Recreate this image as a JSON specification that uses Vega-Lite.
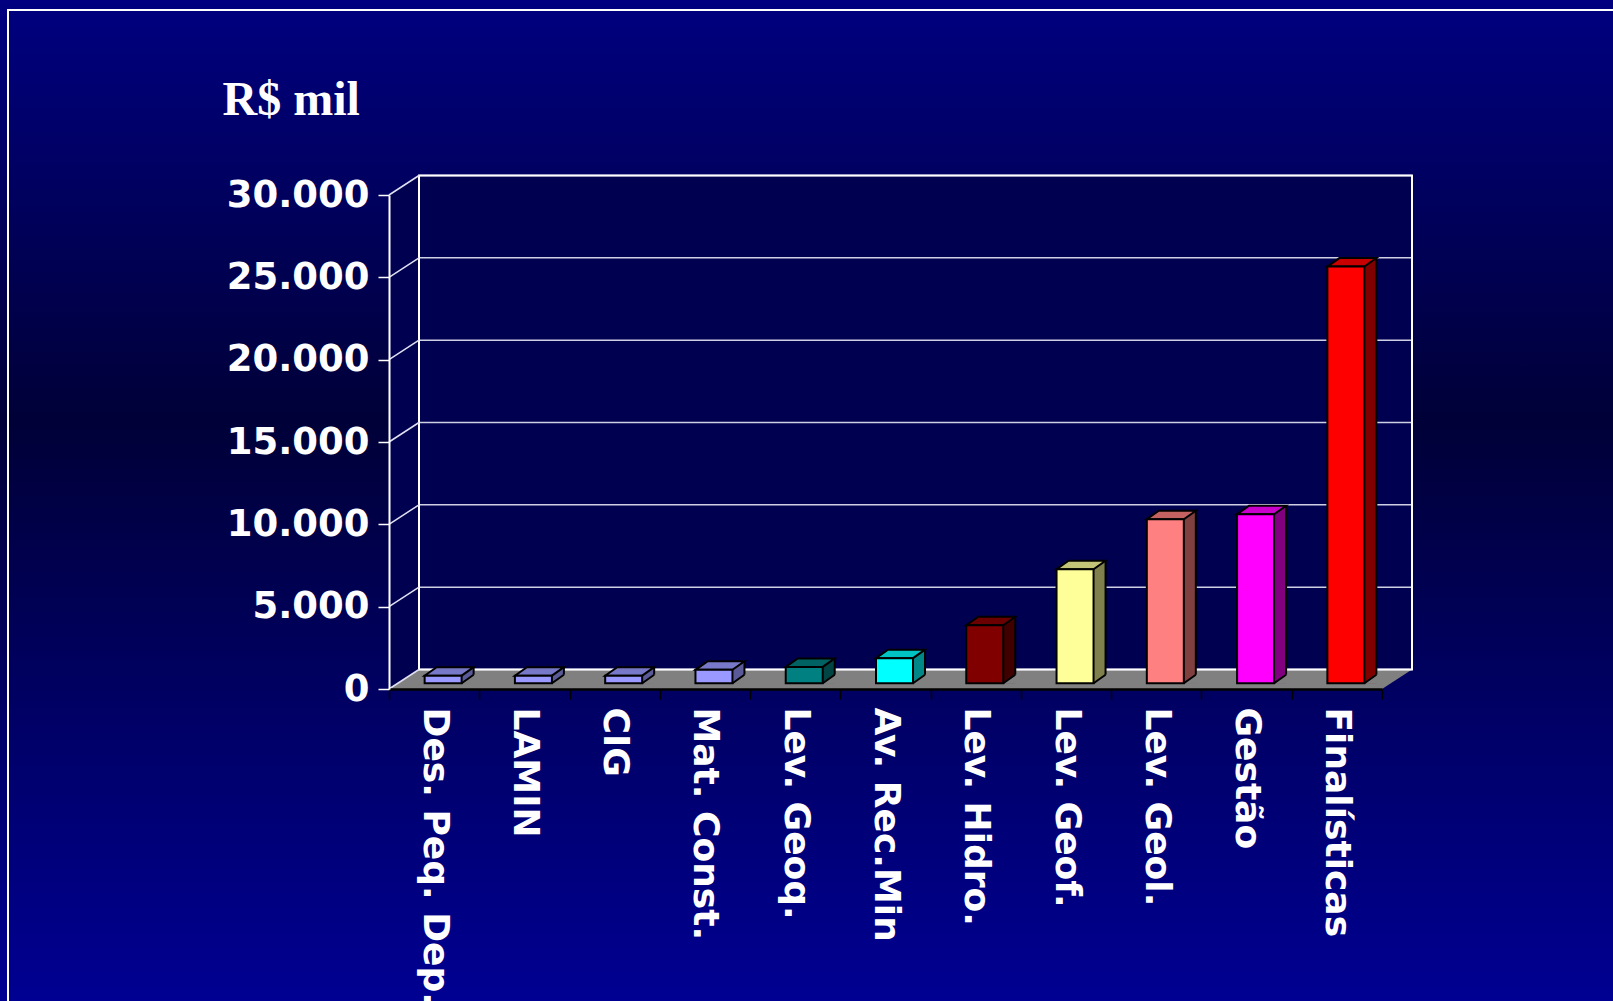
{
  "$schema": "https://vega.github.io/schema/vega-lite/v6.json",
  "width": 993,
  "height": 494,
  "autosize": {"type": "none"},
  "padding": {"left": 389, "top": 195, "right": 231, "bottom": 312},
  "background": "#000060",
  "datasets": {
    "budget": [
      {"categoria": "Des. Peq. Dep.", "valor": 460},
      {"categoria": "LAMIN", "valor": 460},
      {"categoria": "CIG", "valor": 460},
      {"categoria": "Mat. Const.", "valor": 810},
      {"categoria": "Lev. Geoq.", "valor": 990},
      {"categoria": "Av. Rec.Min", "valor": 1520},
      {"categoria": "Lev. Hidro.", "valor": 3520},
      {"categoria": "Lev. Geof.", "valor": 6920},
      {"categoria": "Lev. Geol.", "valor": 9960},
      {"categoria": "Gestão", "valor": 10260},
      {"categoria": "Finalísticas", "valor": 25300}
    ],
    "ticks": [{"v": 0}, {"v": 5000}, {"v": 10000}, {"v": 15000}, {"v": 20000}, {"v": 25000}, {"v": 30000}],
    "frame": [{"k": 1}]
  },
  "layer": [
    {
      "data": {"name": "frame"},
      "mark": {
        "type": "rect",
        "fill": {"gradient": "linear", "x1": 0, "y1": 0, "x2": 0, "y2": 1,
          "stops": [{"offset": 0, "color": "#000080"}, {"offset": 0.42, "color": "#000038"}, {"offset": 1, "color": "#000092"}]}
      },
      "encoding": {
        "x": {"value": -389}, "x2": {"value": 1224},
        "y": {"value": -195}, "y2": {"value": 806}
      }
    },
    {
      "data": {"name": "frame"},
      "mark": {"type": "rect", "fill": "transparent", "stroke": "white", "strokeWidth": 2},
      "encoding": {
        "x": {"value": -381}, "x2": {"value": 1260},
        "y": {"value": -185}, "y2": {"value": 840}
      }
    },
    {
      "data": {"name": "frame"},
      "mark": {"type": "rect", "fill": "#000050", "yOffset": -19.5, "y2Offset": -19.5},
      "encoding": {
        "x": {"value": 30}, "x2": {"value": 1023},
        "y": {"datum": 30000, "type": "quantitative", "title": "R$ mil", "scale": {"domain": [0, 30000], "nice": false}},
        "y2": {"datum": 0}
      }
    },
    {
      "data": {"name": "frame"},
      "mark": {"type": "point", "filled": true, "opacity": 1, "size": 4, "fill": "#000050", "strokeWidth": 0,
        "shape": "M -45.136 0 L -15.136 -19.5 L -15.136 -513.5 L -45.136 -494 Z"},
      "encoding": {
        "x": {"datum": "Des. Peq. Dep.", "type": "nominal", "title": null},
        "y": {"datum": 0, "type": "quantitative", "title": "R$ mil"}
      }
    },
    {
      "data": {"name": "frame"},
      "mark": {"type": "point", "filled": true, "opacity": 1, "size": 4, "fill": "#808080", "strokeWidth": 0,
        "shape": "M -45.136 0 L 947.864 0 L 977.864 -19.5 L -15.136 -19.5 Z"},
      "encoding": {
        "x": {"datum": "Des. Peq. Dep.", "type": "nominal", "title": null},
        "y": {"datum": 0, "type": "quantitative", "title": "R$ mil"}
      }
    },
    {
      "data": {"name": "ticks"},
      "mark": {"type": "rule", "color": "#d0d0e4", "strokeWidth": 1.5, "yOffset": -19.5},
      "encoding": {
        "x": {"value": 30}, "x2": {"value": 1023},
        "y": {"field": "v", "type": "quantitative", "title": "R$ mil"}
      }
    },
    {
      "data": {"name": "frame"},
      "mark": {"type": "rect", "fill": "transparent", "stroke": "white", "strokeWidth": 2, "yOffset": -19.5, "y2Offset": -19.5},
      "encoding": {
        "x": {"value": 30}, "x2": {"value": 1023},
        "y": {"datum": 30000, "type": "quantitative", "title": "R$ mil"},
        "y2": {"datum": 0}
      }
    },
    {
      "data": {"name": "ticks"},
      "mark": {"type": "rule", "color": "#e0e0f0", "strokeWidth": 1.5, "y2Offset": -19.5},
      "encoding": {
        "x": {"value": 0}, "x2": {"value": 30},
        "y": {"field": "v", "type": "quantitative", "title": "R$ mil"}, "y2": {"field": "v"}
      }
    },
    {
      "data": {"name": "budget"},
      "mark": {"type": "bar", "width": 12, "xOffset": 33.5, "yOffset": -14.3, "y2Offset": -5.8, "strokeWidth": 0},
      "encoding": {
        "x": {"field": "categoria", "type": "nominal", "sort": null, "title": null, "scale": {"paddingInner": 0, "paddingOuter": 0}},
        "y": {"field": "valor", "type": "quantitative", "title": "R$ mil"},
        "y2": {"datum": 0},
        "color": {"field": "categoria", "type": "nominal", "sort": null, "legend": null,
          "scale": {"domain": ["Des. Peq. Dep.", "LAMIN", "CIG", "Mat. Const.", "Lev. Geoq.", "Av. Rec.Min", "Lev. Hidro.", "Lev. Geof.", "Lev. Geol.", "Gestão", "Finalísticas"],
            "range": ["#5A5A99", "#5A5A99", "#5A5A99", "#5A5A99", "#004444", "#008888", "#400000", "#80804D", "#804040", "#800080", "#800000"]}}
      }
    },
    {
      "data": {"name": "budget"},
      "mark": {"type": "point", "filled": true, "opacity": 1, "size": 4, "fill": "#808080", "strokeWidth": 0, "yOffset": -5.8,
        "shape": "M 27.5 0.5 L 40.5 0.5 L 40.5 -9.2 Z"},
      "encoding": {
        "x": {"field": "categoria", "type": "nominal", "sort": null, "title": null},
        "y": {"datum": 0, "type": "quantitative", "title": "R$ mil"}
      }
    },
    {
      "data": {"name": "budget"},
      "mark": {"type": "rule", "color": "black", "strokeWidth": 2, "xOffset": 39.5, "yOffset": -14.3, "y2Offset": -14.3},
      "encoding": {
        "x": {"field": "categoria", "type": "nominal", "sort": null, "title": null},
        "y": {"field": "valor", "type": "quantitative", "title": "R$ mil"},
        "y2": {"datum": 0}
      }
    },
    {
      "data": {"name": "budget"},
      "mark": {"type": "point", "filled": false, "opacity": 1, "size": 4, "stroke": "black", "strokeWidth": 2, "yOffset": -5.8,
        "shape": "M 27.5 0 L 39.5 -8.5"},
      "encoding": {
        "x": {"field": "categoria", "type": "nominal", "sort": null, "title": null},
        "y": {"datum": 0, "type": "quantitative", "title": "R$ mil"}
      }
    },
    {
      "data": {"name": "budget"},
      "mark": {"type": "point", "filled": true, "opacity": 1, "size": 4, "stroke": "black", "strokeWidth": 2, "strokeJoin": "miter", "yOffset": -5.8,
        "shape": "M -9.5 0 L 27.5 0 L 39.5 -8.5 L 2.5 -8.5 Z"},
      "encoding": {
        "x": {"field": "categoria", "type": "nominal", "sort": null, "title": null},
        "y": {"field": "valor", "type": "quantitative", "title": "R$ mil"},
        "color": {"field": "categoria", "type": "nominal", "sort": null, "legend": null,
          "scale": {"domain": ["Des. Peq. Dep.", "LAMIN", "CIG", "Mat. Const.", "Lev. Geoq.", "Av. Rec.Min", "Lev. Hidro.", "Lev. Geof.", "Lev. Geol.", "Gestão", "Finalísticas"],
            "range": ["#7878C8", "#7878C8", "#7878C8", "#7878C8", "#006262", "#00C4C4", "#6A0000", "#C4C478", "#C46262", "#CC00CC", "#C80000"]}}
      }
    },
    {
      "data": {"name": "budget"},
      "mark": {"type": "bar", "width": 37, "xOffset": 9, "yOffset": -5.8, "y2Offset": -5.8, "stroke": "black", "strokeWidth": 2, "strokeJoin": "miter"},
      "encoding": {
        "x": {"field": "categoria", "type": "nominal", "sort": null, "title": null, "axis": {"zindex": 1}},
        "y": {"field": "valor", "type": "quantitative", "title": "R$ mil", "axis": {"zindex": 1, "values": [0, 5000, 10000, 15000, 20000, 25000, 30000]}},
        "y2": {"datum": 0},
        "color": {"field": "categoria", "type": "nominal", "sort": null, "legend": null,
          "scale": {"domain": ["Des. Peq. Dep.", "LAMIN", "CIG", "Mat. Const.", "Lev. Geoq.", "Av. Rec.Min", "Lev. Hidro.", "Lev. Geof.", "Lev. Geol.", "Gestão", "Finalísticas"],
            "range": ["#9999FF", "#9999FF", "#9999FF", "#9999FF", "#008080", "#00FFFF", "#800000", "#FFFF99", "#FF8080", "#FF00FF", "#FF0000"]}}
      }
    }
  ],
  "resolve": {"scale": {"color": "independent"}},
  "config": {
    "view": {"stroke": null},
    "axisY": {
      "grid": false,
      "domainColor": "white",
      "domainWidth": 2,
      "tickColor": "white",
      "tickWidth": 1.5,
      "tickSize": 11,
      "labelPadding": 9,
      "labelColor": "white",
      "labelFont": "DejaVu Sans",
      "labelFontWeight": "bold",
      "labelFontSize": 37,
      "labelExpr": "replace(format(datum.value, ','), ',', '.')",
      "titleColor": "white",
      "titleFont": "Liberation Serif",
      "titleFontWeight": "bold",
      "titleFontSize": 48,
      "titleAngle": 0,
      "titleAlign": "left",
      "titleBaseline": "alphabetic",
      "titleX": -167,
      "titleY": -81
    },
    "axisX": {
      "grid": false,
      "domainColor": "black",
      "domainWidth": 2.5,
      "tickColor": "black",
      "tickWidth": 1.5,
      "tickSize": 10,
      "tickBand": "extent",
      "labelAngle": 90,
      "labelAlign": "left",
      "labelBaseline": "middle",
      "labelPadding": 8,
      "labelLimit": 0,
      "labelOverlap": false,
      "labelColor": "white",
      "labelFont": "DejaVu Sans",
      "labelFontWeight": "bold",
      "labelFontSize": 36
    }
  }
}
